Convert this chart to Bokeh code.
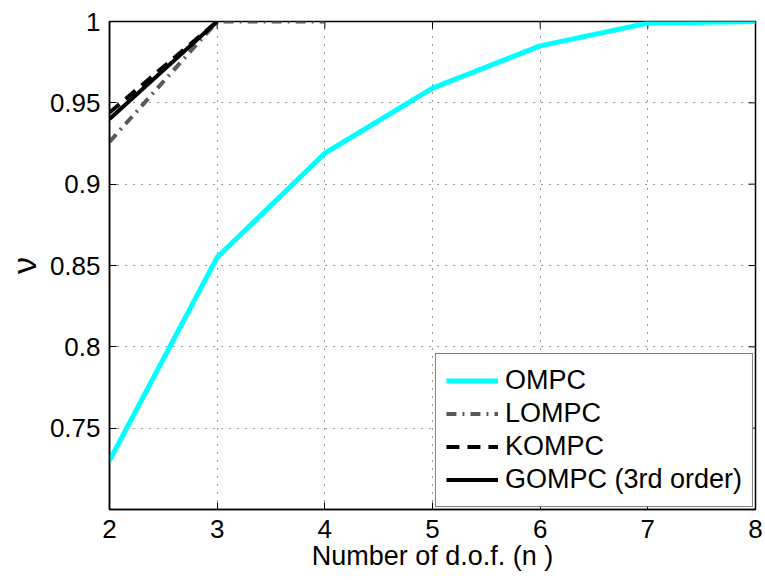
import math
from bokeh.plotting import figure
from bokeh.models import Range1d, FixedTicker, Label
from bokeh.embed import file_html
from bokeh.resources import INLINE

# Fraction of the feasible region (nu) against the number of d.o.f. n_c
x_ompc = [2, 3, 4, 5, 6, 7, 8]
nu_ompc = [0.730, 0.855, 0.919, 0.959, 0.985, 0.999, 1.000]

x_lompc = [2, 3, 4]
nu_lompc = [0.926, 1.000, 1.000]

x_kompc = [2, 3]
nu_kompc = [0.944, 1.000]

x_gompc = [2, 3]
nu_gompc = [0.940, 1.000]

x_ticks = [2, 3, 4, 5, 6, 7, 8]
y_ticks = [0.75, 0.8, 0.85, 0.9, 0.95, 1.0]
y_tick_labels = ["0.75", "0.8", "0.85", "0.9", "0.95", "1"]

X_MIN, X_MAX = 2, 8
Y_MIN, Y_MAX = 0.70, 1.0

FONT = "Liberation Sans"

p = figure(width=765, height=580, output_backend="svg", toolbar_location=None,
           x_range=Range1d(X_MIN, X_MAX), y_range=Range1d(Y_MIN, Y_MAX),
           min_border_left=109, min_border_right=10, min_border_top=21,
           min_border_bottom=71, background_fill_color="white",
           border_fill_color="white")
p.outline_line_color = "black"
p.outline_line_width = 1.5

p.xaxis.ticker = FixedTicker(ticks=x_ticks)
p.yaxis.ticker = FixedTicker(ticks=y_ticks)
p.yaxis.major_label_overrides = {t: s for t, s in zip(y_ticks, y_tick_labels)}

for ax in (p.xaxis[0], p.yaxis[0]):
    ax.axis_line_color = "black"
    ax.axis_line_width = 1.5
    ax.major_tick_in = 7
    ax.major_tick_out = 0
    ax.minor_tick_in = 0
    ax.minor_tick_out = 0
    ax.major_tick_line_color = "black"
    ax.major_label_text_font = FONT
    ax.major_label_text_font_size = "26px"
    ax.major_label_text_color = "black"
    ax.axis_label_text_font = FONT
    ax.axis_label_text_font_style = "normal"
    ax.axis_label_text_color = "black"

p.xaxis.major_label_standoff = 10
p.yaxis.major_label_standoff = 9
p.xaxis.axis_label = "Number of d.o.f. (n )"
p.xaxis.axis_label_text_font_size = "27px"
p.xaxis.axis_label_standoff = 0
p.yaxis.axis_label = "ν"
p.yaxis.axis_label_text_font_size = "34px"
p.yaxis.axis_label_standoff = 4

for g in (p.xgrid[0], p.ygrid[0]):
    g.grid_line_color = "#333333"
    g.grid_line_dash = "1 7"
    g.grid_line_width = 1

# inward tick marks along the top and right edges of the box
p.ray(x=x_ticks, y=[Y_MAX] * len(x_ticks), length=7, length_units="screen",
      angle=-math.pi / 2, line_color="black", line_width=1)
p.ray(x=[X_MAX] * len(y_ticks), y=y_ticks, length=7, length_units="screen",
      angle=math.pi, line_color="black", line_width=1)

p.line(x_ompc, nu_ompc, line_color="#00FFFF", line_width=5, line_join="round",
       legend_label="OMPC")
p.line(x_lompc, nu_lompc, line_color="#595959", line_width=4, line_dash="10 6 2 6",
       legend_label="LOMPC")
p.line(x_kompc, nu_kompc, line_color="black", line_width=4, line_dash="13 8",
       legend_label="KOMPC")
p.line(x_gompc, nu_gompc, line_color="black", line_width=4,
       legend_label="GOMPC (3rd order)")

# subscript c of n_c in the x label
p.add_layout(Label(x=6.0, y=0.6625, text="c", text_font=FONT, text_font_size="17px",
                   text_align="center", text_baseline="middle", text_color="black"))

lg = p.legend[0]
lg.location = "bottom_right"
lg.margin = 2
lg.padding = 10
lg.spacing = 0
lg.border_line_color = "black"
lg.border_line_width = 1
lg.background_fill_color = "white"
lg.background_fill_alpha = 1
lg.label_text_font = FONT
lg.label_text_font_size = "27px"
lg.label_text_color = "black"
lg.glyph_width = 52
lg.glyph_height = 33
lg.label_height = 33
lg.label_standoff = 7

open("out.html", "w").write(file_html(p, INLINE))
